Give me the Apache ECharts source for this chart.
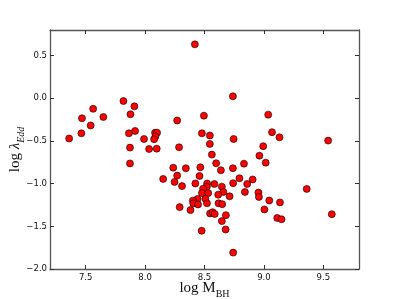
<!DOCTYPE html>
<html><head><meta charset="utf-8">
<script src="https://cdn.jsdelivr.net/npm/echarts@6/dist/echarts.min.js"></script>
<style>html,body{margin:0;padding:0;background:#fff}#c{width:399px;height:299px}</style>
</head><body><div id="c"></div>
<script>
var logMBH = [8.419,7.818,7.910,7.563,7.877,7.469,7.649,8.270,7.542,7.916,7.464,7.864,8.084,8.101,8.087,8.076,7.361,7.991,7.873,8.034,8.098,8.286,7.873,
8.739,8.495,9.036,8.478,8.545,9.068,9.131,8.745,9.540,8.545,8.994,8.562,8.962,8.598,8.832,9.015,8.237,8.343,8.465,8.638,8.739,8.270,8.458,8.152,8.794,8.905,
8.248,8.311,8.423,8.522,8.583,8.741,8.859,8.520,8.646,8.488,8.478,8.531,8.659,8.840,8.954,9.360,8.615,8.711,8.958,8.441,8.507,8.402,8.406,8.446,8.521,8.618,
8.649,9.045,9.135,8.291,8.382,9.004,8.547,8.568,8.586,8.680,9.571,9.112,9.148,8.646,8.476,8.678,8.741];
var logLEdd = [0.632,-0.032,-0.094,-0.123,-0.187,-0.234,-0.219,-0.260,-0.318,-0.383,-0.410,-0.410,-0.403,-0.403,-0.447,-0.480,-0.471,-0.477,-0.578,-0.594,-0.590,-0.574,-0.763,
0.023,-0.204,-0.192,-0.410,-0.436,-0.397,-0.457,-0.477,-0.496,-0.535,-0.561,-0.660,-0.672,-0.761,-0.766,-0.754,-0.813,-0.820,-0.808,-0.843,-0.819,-0.906,-0.910,-0.945,-0.937,-0.951,
-0.980,-1.029,-0.998,-0.998,-1.004,-0.994,-1.004,-1.035,-1.035,-1.059,-1.111,-1.111,-1.097,-1.097,-1.105,-1.062,-1.129,-1.148,-1.156,-1.179,-1.177,-1.199,-1.232,-1.244,-1.230,-1.230,
-1.240,-1.197,-1.220,-1.275,-1.310,-1.302,-1.349,-1.334,-1.355,-1.369,-1.358,-1.402,-1.417,-1.439,-1.552,-1.537,-1.808];
var xTicks = [7.5, 8.0, 8.5, 9.0, 9.5];
var yTicks = [-2.0, -1.5, -1.0, -0.5, 0.0, 0.5];

var points = logMBH.map(function(v, i){ return [v, logLEdd[i]]; });
function fmt(v){ return v.toFixed(1).replace('-', '\u2212'); }
var lineStyle = {color:'#555', width:1.3};
var labelStyle = {fontFamily:'DejaVu Sans', fontSize:8.5, color:'#111'};
function xAx(pos, showLabel){
  return {type:'value', position:pos, min:7.2, max:9.8,
    axisLine:{show:true, onZero:false, lineStyle:lineStyle},
    axisTick:{show:true, inside:true, length:4, customValues:xTicks, lineStyle:{color:'#333', width:1}},
    axisLabel:Object.assign({show:showLabel, margin:4, customValues:xTicks, formatter:fmt}, labelStyle),
    splitLine:{show:false}};
}
function yAx(pos, showLabel){
  return {type:'value', position:pos, min:-2.0, max:0.8,
    axisLine:{show:true, onZero:false, lineStyle:lineStyle},
    axisTick:{show:true, inside:true, length:4, customValues:yTicks, lineStyle:{color:'#333', width:1}},
    axisLabel:Object.assign({show:showLabel, margin:3, customValues:yTicks, formatter:fmt}, labelStyle),
    splitLine:{show:false}};
}
var xa = xAx('bottom', true);
xa.name = '{n|log M}{s|BH}';
xa.nameLocation = 'middle';
xa.nameGap = 8;
xa.nameMoveOverlap = false;
xa.nameTextStyle = {fontFamily:'Liberation Serif', color:'#111',
  rich:{n:{fontFamily:'Liberation Serif', fontSize:15, lineHeight:18, verticalAlign:'middle', color:'#111'},
        s:{fontFamily:'Liberation Serif', fontSize:10, lineHeight:22, verticalAlign:'bottom', color:'#111'}}};
var ya = yAx('left', true);
ya.name = '{n|log }{l|\u03bb}{s|Edd}';
ya.nameLocation = 'middle';
ya.nameGap = 24;
ya.nameRotate = 90;
ya.nameMoveOverlap = false;
ya.nameTextStyle = {fontFamily:'Liberation Serif', color:'#111',
  rich:{n:{fontFamily:'Liberation Serif', fontSize:15, lineHeight:18, verticalAlign:'middle', color:'#111'},
        l:{fontFamily:'Liberation Serif', fontStyle:'italic', fontSize:15, lineHeight:18, verticalAlign:'middle', color:'#111'},
        s:{fontFamily:'Liberation Serif', fontStyle:'italic', fontSize:10, lineHeight:22, verticalAlign:'bottom', color:'#111'}}};

var chart = echarts.init(document.getElementById('c'), null, {renderer:'canvas'});
chart.setOption({
  animation:false,
  backgroundColor:'#fff',
  grid:{left:50, right:40, top:30, bottom:30, containLabel:false, outerBoundsMode:'none'},
  xAxis:[xa, xAx('top', false)],
  yAxis:[ya, yAx('right', false)],
  series:[{type:'scatter', xAxisIndex:0, yAxisIndex:0, data:points, symbol:'circle', symbolSize:7,
    itemStyle:{color:'#ff0000', borderColor:'#000', borderWidth:0.6, opacity:1}}]
});
</script></body></html>
